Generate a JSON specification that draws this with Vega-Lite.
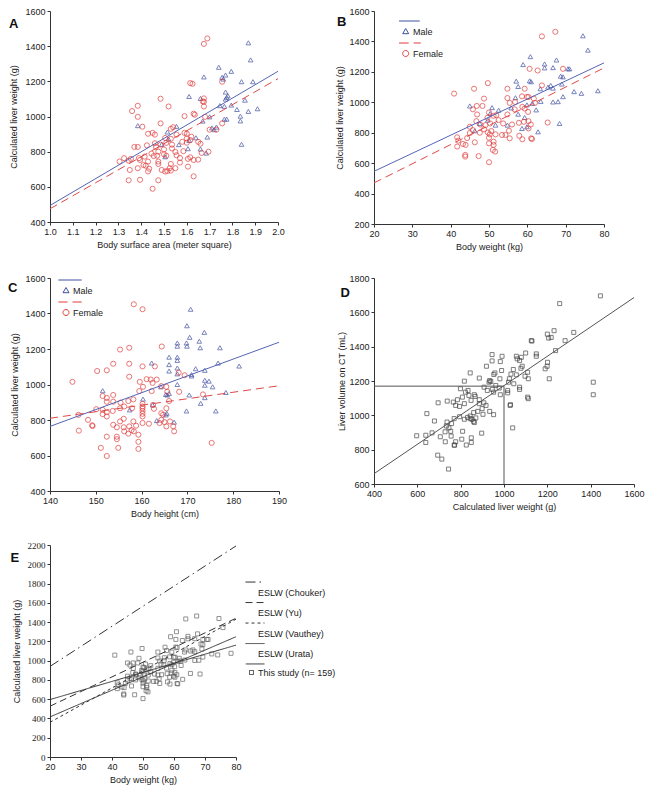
{
"$schema": "https://vega.github.io/schema/vega-lite/v6.json",
"padding": {"left": 8, "top": 7, "right": 4, "bottom": 4},
"columns": 2,
"bounds": "flush",
"align": "each",
"spacing": {"row": 54, "column": 95},
"resolve": {"scale": {"color": "independent", "shape": "independent", "strokeDash": "independent"}, "legend": {"color": "independent", "shape": "independent", "strokeDash": "independent"}},
"datasets": {
"A": [
{"sex":"Male","x":1.87,"y":1419},{"sex":"Male","x":1.88,"y":1322},{"sex":"Male","x":1.74,"y":1280},{"sex":"Male","x":1.795,"y":1257},{"sex":"Male","x":1.77,"y":1236},{"sex":"Male","x":1.755,"y":1223},{"sex":"Male","x":1.76,"y":1213},{"sex":"Male","x":1.675,"y":1225},{"sex":"Male","x":1.84,"y":1198},{"sex":"Male","x":1.89,"y":1198},{"sex":"Male","x":1.61,"y":1114},{"sex":"Male","x":1.77,"y":1139},{"sex":"Male","x":1.78,"y":1118},{"sex":"Male","x":1.77,"y":1099},{"sex":"Male","x":1.775,"y":1109},{"sex":"Male","x":1.66,"y":1103},{"sex":"Male","x":1.855,"y":1093},{"sex":"Male","x":1.795,"y":1065},{"sex":"Male","x":1.745,"y":1062},{"sex":"Male","x":1.765,"y":1058},{"sex":"Male","x":1.82,"y":1040},{"sex":"Male","x":1.87,"y":1029},{"sex":"Male","x":1.91,"y":1044},{"sex":"Male","x":1.70,"y":998},{"sex":"Male","x":1.835,"y":1002},{"sex":"Male","x":1.765,"y":985},{"sex":"Male","x":1.775,"y":985},{"sex":"Male","x":1.835,"y":975},{"sex":"Male","x":1.67,"y":974},{"sex":"Male","x":1.385,"y":948},{"sex":"Male","x":1.555,"y":944},{"sex":"Male","x":1.71,"y":935},{"sex":"Male","x":1.72,"y":925},{"sex":"Male","x":1.73,"y":940},{"sex":"Male","x":1.515,"y":912},{"sex":"Male","x":1.69,"y":883},{"sex":"Male","x":1.84,"y":842},{"sex":"Male","x":1.52,"y":872},{"sex":"Male","x":1.61,"y":864},{"sex":"Male","x":1.64,"y":879},{"sex":"Male","x":1.565,"y":840},{"sex":"Male","x":1.605,"y":817},{"sex":"Male","x":1.66,"y":815},{"sex":"Male","x":1.685,"y":792},{"sex":"Male","x":1.49,"y":842},{"sex":"Male","x":1.505,"y":771},
{"sex":"Female","x":1.69,"y":1444},{"sex":"Female","x":1.675,"y":1413},{"sex":"Female","x":1.615,"y":1190},{"sex":"Female","x":1.625,"y":1186},{"sex":"Female","x":1.755,"y":1198},{"sex":"Female","x":1.675,"y":1103},{"sex":"Female","x":1.67,"y":1086},{"sex":"Female","x":1.675,"y":1084},{"sex":"Female","x":1.485,"y":1101},{"sex":"Female","x":1.52,"y":1057},{"sex":"Female","x":1.385,"y":1061},{"sex":"Female","x":1.36,"y":1031},{"sex":"Female","x":1.675,"y":1057},{"sex":"Female","x":1.63,"y":1016},{"sex":"Female","x":1.635,"y":1010},{"sex":"Female","x":1.59,"y":1002},{"sex":"Female","x":1.385,"y":998},{"sex":"Female","x":1.68,"y":998},{"sex":"Female","x":1.70,"y":925},{"sex":"Female","x":1.73,"y":925},{"sex":"Female","x":1.755,"y":961},{"sex":"Female","x":1.485,"y":961},{"sex":"Female","x":1.405,"y":942},{"sex":"Female","x":1.45,"y":907},{"sex":"Female","x":1.46,"y":897},{"sex":"Female","x":1.43,"y":902},{"sex":"Female","x":1.53,"y":930},{"sex":"Female","x":1.555,"y":897},{"sex":"Female","x":1.59,"y":907},{"sex":"Female","x":1.60,"y":902},{"sex":"Female","x":1.60,"y":875},{"sex":"Female","x":1.505,"y":878},{"sex":"Female","x":1.53,"y":873},{"sex":"Female","x":1.62,"y":885},{"sex":"Female","x":1.65,"y":856},{"sex":"Female","x":1.60,"y":851},{"sex":"Female","x":1.535,"y":840},{"sex":"Female","x":1.485,"y":840},{"sex":"Female","x":1.51,"y":850},{"sex":"Female","x":1.425,"y":836},{"sex":"Female","x":1.465,"y":827},{"sex":"Female","x":1.37,"y":827},{"sex":"Female","x":1.385,"y":827},{"sex":"Female","x":1.50,"y":813},{"sex":"Female","x":1.475,"y":800},{"sex":"Female","x":1.585,"y":803},{"sex":"Female","x":1.66,"y":845},{"sex":"Female","x":1.535,"y":818},{"sex":"Female","x":1.695,"y":800},{"sex":"Female","x":1.445,"y":789},{"sex":"Female","x":1.50,"y":785},{"sex":"Female","x":1.55,"y":798},{"sex":"Female","x":1.455,"y":775},{"sex":"Female","x":1.47,"y":777},{"sex":"Female","x":1.51,"y":777},{"sex":"Female","x":1.615,"y":768},{"sex":"Female","x":1.415,"y":772},{"sex":"Female","x":1.39,"y":763},{"sex":"Female","x":1.325,"y":763},{"sex":"Female","x":1.355,"y":759},{"sex":"Female","x":1.57,"y":764},{"sex":"Female","x":1.43,"y":744},{"sex":"Female","x":1.395,"y":753},{"sex":"Female","x":1.475,"y":730},{"sex":"Female","x":1.53,"y":730},{"sex":"Female","x":1.55,"y":706},{"sex":"Female","x":1.605,"y":759},{"sex":"Female","x":1.65,"y":755},{"sex":"Female","x":1.63,"y":753},{"sex":"Female","x":1.41,"y":724},{"sex":"Female","x":1.345,"y":749},{"sex":"Female","x":1.305,"y":744},{"sex":"Female","x":1.475,"y":744},{"sex":"Female","x":1.42,"y":720},{"sex":"Female","x":1.525,"y":706},{"sex":"Female","x":1.53,"y":692},{"sex":"Female","x":1.49,"y":696},{"sex":"Female","x":1.43,"y":688},{"sex":"Female","x":1.435,"y":703},{"sex":"Female","x":1.385,"y":706},{"sex":"Female","x":1.35,"y":696},{"sex":"Female","x":1.515,"y":690},{"sex":"Female","x":1.57,"y":738},{"sex":"Female","x":1.345,"y":637},{"sex":"Female","x":1.395,"y":640},{"sex":"Female","x":1.475,"y":637},{"sex":"Female","x":1.45,"y":589},{"sex":"Female","x":1.63,"y":660},{"sex":"Female","x":1.505,"y":687},{"sex":"Female","x":1.605,"y":715},{"sex":"Female","x":1.665,"y":793},{"sex":"Female","x":1.54,"y":939},{"sex":"Female","x":1.615,"y":866},{"sex":"Female","x":1.58,"y":856},{"sex":"Female","x":1.555,"y":780},{"sex":"Female","x":1.46,"y":848}
],
"Aln": [{"sex":"Male","x":1,"y":494},{"sex":"Male","x":2,"y":1257},{"sex":"Female","x":1,"y":475},{"sex":"Female","x":2,"y":1215}],
"B": [
{"sex":"Male","x":74.5,"y":1437},{"sex":"Male","x":75.8,"y":1343},{"sex":"Male","x":60.8,"y":1300},{"sex":"Male","x":58.9,"y":1248},{"sex":"Male","x":64.5,"y":1252},{"sex":"Male","x":64.5,"y":1226},{"sex":"Male","x":66.7,"y":1228},{"sex":"Male","x":67.6,"y":1278},{"sex":"Male","x":68.7,"y":1172},{"sex":"Male","x":69.3,"y":1167},{"sex":"Male","x":70.6,"y":1220},{"sex":"Male","x":71.0,"y":1220},{"sex":"Male","x":57.1,"y":1139},{"sex":"Male","x":60.6,"y":1141},{"sex":"Male","x":61,"y":1135},{"sex":"Male","x":57.6,"y":1104},{"sex":"Male","x":63.4,"y":1089},{"sex":"Male","x":65.4,"y":1100},{"sex":"Male","x":66.1,"y":1111},{"sex":"Male","x":66.7,"y":1093},{"sex":"Male","x":69,"y":1120},{"sex":"Male","x":72.2,"y":1070},{"sex":"Male","x":74.1,"y":1059},{"sex":"Male","x":78.4,"y":1076},{"sex":"Male","x":69.3,"y":1037},{"sex":"Male","x":68,"y":1004},{"sex":"Male","x":66.7,"y":1002},{"sex":"Male","x":63.5,"y":1006},{"sex":"Male","x":56.9,"y":1030},{"sex":"Male","x":61.3,"y":993},{"sex":"Male","x":59.9,"y":983},{"sex":"Male","x":45,"y":976},{"sex":"Male","x":50.8,"y":965},{"sex":"Male","x":55.8,"y":963},{"sex":"Male","x":52.5,"y":948},{"sex":"Male","x":50.3,"y":926},{"sex":"Male","x":62.3,"y":950},{"sex":"Male","x":57.6,"y":922},{"sex":"Male","x":59.3,"y":900},{"sex":"Male","x":49.7,"y":883},{"sex":"Male","x":47.6,"y":861},{"sex":"Male","x":54.8,"y":850},{"sex":"Male","x":59.9,"y":839},{"sex":"Male","x":68.4,"y":861},{"sex":"Male","x":62.8,"y":806},{"sex":"Male","x":51.7,"y":850},{"sex":"Male","x":58.6,"y":828},{"sex":"Male","x":46.3,"y":813},
{"sex":"Female","x":63.8,"y":1433},{"sex":"Female","x":67.3,"y":1463},{"sex":"Female","x":40.9,"y":1057},{"sex":"Female","x":46.1,"y":1089},{"sex":"Female","x":49.7,"y":1126},{"sex":"Female","x":60.6,"y":1220},{"sex":"Female","x":62.7,"y":1209},{"sex":"Female","x":69.3,"y":1220},{"sex":"Female","x":63.8,"y":1111},{"sex":"Female","x":59.3,"y":1089},{"sex":"Female","x":54.8,"y":1089},{"sex":"Female","x":48.7,"y":1024},{"sex":"Female","x":54.8,"y":1028},{"sex":"Female","x":58.6,"y":1039},{"sex":"Female","x":59.9,"y":1035},{"sex":"Female","x":60.3,"y":1035},{"sex":"Female","x":61.7,"y":1024},{"sex":"Female","x":55.4,"y":996},{"sex":"Female","x":62,"y":996},{"sex":"Female","x":45.8,"y":954},{"sex":"Female","x":48.3,"y":976},{"sex":"Female","x":46.8,"y":976},{"sex":"Female","x":50,"y":933},{"sex":"Female","x":58.7,"y":970},{"sex":"Female","x":59.3,"y":959},{"sex":"Female","x":60.2,"y":937},{"sex":"Female","x":56.7,"y":954},{"sex":"Female","x":54.8,"y":920},{"sex":"Female","x":51.9,"y":915},{"sex":"Female","x":46.9,"y":920},{"sex":"Female","x":49.6,"y":898},{"sex":"Female","x":51.2,"y":911},{"sex":"Female","x":46.7,"y":876},{"sex":"Female","x":50.3,"y":861},{"sex":"Female","x":47.7,"y":854},{"sex":"Female","x":49.1,"y":850},{"sex":"Female","x":52.5,"y":883},{"sex":"Female","x":53.7,"y":861},{"sex":"Female","x":56,"y":854},{"sex":"Female","x":57.8,"y":865},{"sex":"Female","x":59.1,"y":872},{"sex":"Female","x":60.3,"y":876},{"sex":"Female","x":60.9,"y":854},{"sex":"Female","x":65.3,"y":867},{"sex":"Female","x":60.3,"y":828},{"sex":"Female","x":45,"y":839},{"sex":"Female","x":45.8,"y":817},{"sex":"Female","x":48.7,"y":822},{"sex":"Female","x":50.6,"y":811},{"sex":"Female","x":49.7,"y":802},{"sex":"Female","x":50.2,"y":789},{"sex":"Female","x":53.4,"y":785},{"sex":"Female","x":54.3,"y":785},{"sex":"Female","x":51.7,"y":789},{"sex":"Female","x":47.6,"y":800},{"sex":"Female","x":45,"y":798},{"sex":"Female","x":50,"y":767},{"sex":"Female","x":44.3,"y":765},{"sex":"Female","x":41.7,"y":770},{"sex":"Female","x":42,"y":748},{"sex":"Female","x":43.2,"y":726},{"sex":"Female","x":46.3,"y":737},{"sex":"Female","x":51.2,"y":741},{"sex":"Female","x":55.4,"y":763},{"sex":"Female","x":57.9,"y":780},{"sex":"Female","x":61,"y":763},{"sex":"Female","x":61.2,"y":759},{"sex":"Female","x":51.2,"y":720},{"sex":"Female","x":50,"y":730},{"sex":"Female","x":41.7,"y":709},{"sex":"Female","x":43.9,"y":720},{"sex":"Female","x":51,"y":687},{"sex":"Female","x":51.6,"y":676},{"sex":"Female","x":43.8,"y":654},{"sex":"Female","x":43.8,"y":643},{"sex":"Female","x":47.3,"y":646},{"sex":"Female","x":50,"y":606},{"sex":"Female","x":55.2,"y":813},{"sex":"Female","x":58.7,"y":757},{"sex":"Female","x":56.8,"y":1002}
],
"Bln": [{"sex":"Male","x":20,"y":546},{"sex":"Male","x":80,"y":1259},{"sex":"Female","x":20,"y":470},{"sex":"Female","x":80,"y":1226}],
"C": [
{"sex":"Male","x":170.7,"y":1424},{"sex":"Male","x":169.9,"y":1331},{"sex":"Male","x":173.7,"y":1294},{"sex":"Male","x":170.5,"y":1266},{"sex":"Male","x":172.6,"y":1244},{"sex":"Male","x":172.8,"y":1207},{"sex":"Male","x":169.8,"y":1234},{"sex":"Male","x":169.9,"y":1216},{"sex":"Male","x":167.8,"y":1234},{"sex":"Male","x":167.8,"y":1216},{"sex":"Male","x":177.1,"y":1207},{"sex":"Male","x":166,"y":1154},{"sex":"Male","x":167.8,"y":1154},{"sex":"Male","x":167.8,"y":1136},{"sex":"Male","x":166,"y":1112},{"sex":"Male","x":162.2,"y":1121},{"sex":"Male","x":176.7,"y":1121},{"sex":"Male","x":181.3,"y":1104},{"sex":"Male","x":167.8,"y":1093},{"sex":"Male","x":171.8,"y":1089},{"sex":"Male","x":166,"y":1076},{"sex":"Male","x":173.8,"y":1080},{"sex":"Male","x":170.9,"y":1056},{"sex":"Male","x":170.9,"y":1048},{"sex":"Male","x":167.8,"y":1060},{"sex":"Male","x":173.8,"y":1024},{"sex":"Male","x":174.7,"y":1019},{"sex":"Male","x":173.8,"y":996},{"sex":"Male","x":175.5,"y":987},{"sex":"Male","x":167.8,"y":1000},{"sex":"Male","x":164.2,"y":987},{"sex":"Male","x":151.5,"y":965},{"sex":"Male","x":170.4,"y":941},{"sex":"Male","x":173.8,"y":926},{"sex":"Male","x":178.4,"y":955},{"sex":"Male","x":166,"y":950},{"sex":"Male","x":165.3,"y":944},{"sex":"Male","x":165.6,"y":941},{"sex":"Male","x":160.3,"y":918},{"sex":"Male","x":172.9,"y":894},{"sex":"Male","x":162.4,"y":885},{"sex":"Male","x":165.3,"y":829},{"sex":"Male","x":165.5,"y":838},{"sex":"Male","x":169.8,"y":851},{"sex":"Male","x":176.2,"y":851},{"sex":"Male","x":163.3,"y":797},{"sex":"Male","x":167.1,"y":788},{"sex":"Male","x":157.4,"y":857},
{"sex":"Female","x":158.3,"y":1452},{"sex":"Female","x":160.2,"y":1424},{"sex":"Female","x":157.3,"y":1207},{"sex":"Female","x":155.3,"y":1197},{"sex":"Female","x":153.8,"y":1117},{"sex":"Female","x":157.3,"y":1117},{"sex":"Female","x":160.2,"y":1102},{"sex":"Female","x":162.9,"y":1102},{"sex":"Female","x":164.4,"y":1214},{"sex":"Female","x":152.4,"y":1080},{"sex":"Female","x":150.3,"y":1076},{"sex":"Female","x":157.3,"y":1044},{"sex":"Female","x":159.6,"y":1015},{"sex":"Female","x":161.1,"y":1030},{"sex":"Female","x":162,"y":1028},{"sex":"Female","x":162.4,"y":1009},{"sex":"Female","x":163.3,"y":1028},{"sex":"Female","x":168.1,"y":1067},{"sex":"Female","x":169.4,"y":1052},{"sex":"Female","x":144.9,"y":1015},{"sex":"Female","x":160.3,"y":987},{"sex":"Female","x":164.3,"y":991},{"sex":"Female","x":165.4,"y":987},{"sex":"Female","x":165.6,"y":959},{"sex":"Female","x":168.2,"y":959},{"sex":"Female","x":162.2,"y":963},{"sex":"Female","x":159.5,"y":963},{"sex":"Female","x":158.2,"y":916},{"sex":"Female","x":173.4,"y":944},{"sex":"Female","x":151.5,"y":935},{"sex":"Female","x":152.4,"y":924},{"sex":"Female","x":153.8,"y":941},{"sex":"Female","x":152.4,"y":903},{"sex":"Female","x":155.4,"y":898},{"sex":"Female","x":155.3,"y":866},{"sex":"Female","x":150.1,"y":861},{"sex":"Female","x":151.5,"y":857},{"sex":"Female","x":152.4,"y":844},{"sex":"Female","x":153.7,"y":851},{"sex":"Female","x":156.2,"y":876},{"sex":"Female","x":157.9,"y":866},{"sex":"Female","x":160.2,"y":891},{"sex":"Female","x":160.2,"y":876},{"sex":"Female","x":160.2,"y":866},{"sex":"Female","x":160.2,"y":851},{"sex":"Female","x":160.2,"y":835},{"sex":"Female","x":160.2,"y":820},{"sex":"Female","x":162.5,"y":885},{"sex":"Female","x":162.7,"y":863},{"sex":"Female","x":165.4,"y":866},{"sex":"Female","x":166,"y":907},{"sex":"Female","x":146.2,"y":829},{"sex":"Female","x":148.3,"y":801},{"sex":"Female","x":146.3,"y":740},{"sex":"Female","x":149.2,"y":770},{"sex":"Female","x":149.3,"y":766},{"sex":"Female","x":151.5,"y":833},{"sex":"Female","x":152.4,"y":820},{"sex":"Female","x":153.8,"y":773},{"sex":"Female","x":155.3,"y":792},{"sex":"Female","x":156.1,"y":807},{"sex":"Female","x":156.1,"y":759},{"sex":"Female","x":154.6,"y":759},{"sex":"Female","x":157.3,"y":764},{"sex":"Female","x":157.8,"y":743},{"sex":"Female","x":158.3,"y":736},{"sex":"Female","x":158.8,"y":768},{"sex":"Female","x":158.2,"y":792},{"sex":"Female","x":160.2,"y":783},{"sex":"Female","x":161.6,"y":779},{"sex":"Female","x":164.3,"y":838},{"sex":"Female","x":164.7,"y":829},{"sex":"Female","x":164.3,"y":801},{"sex":"Female","x":165,"y":788},{"sex":"Female","x":166.2,"y":792},{"sex":"Female","x":163.9,"y":783},{"sex":"Female","x":165.4,"y":764},{"sex":"Female","x":166.9,"y":764},{"sex":"Female","x":167.1,"y":736},{"sex":"Female","x":157.1,"y":723},{"sex":"Female","x":159.3,"y":717},{"sex":"Female","x":154.6,"y":706},{"sex":"Female","x":154.6,"y":692},{"sex":"Female","x":152.4,"y":706},{"sex":"Female","x":159.3,"y":677},{"sex":"Female","x":151.1,"y":643},{"sex":"Female","x":154.9,"y":643},{"sex":"Female","x":159.3,"y":637},{"sex":"Female","x":152.4,"y":597},{"sex":"Female","x":175.3,"y":671},{"sex":"Female","x":156.2,"y":736},{"sex":"Female","x":157.1,"y":907},{"sex":"Female","x":153.8,"y":903}
],
"Cln": [{"sex":"Male","x":140,"y":764},{"sex":"Male","x":190,"y":1238},{"sex":"Female","x":140,"y":810},{"sex":"Female","x":190,"y":993}],
"D": [
{"x":1445,"y":1696},{"x":1257,"y":1651},{"x":1322,"y":1483},{"x":1231,"y":1493},{"x":1200,"y":1473},{"x":1206,"y":1450},{"x":1218,"y":1454},{"x":1282,"y":1435},{"x":1126,"y":1435},{"x":1129,"y":1433},{"x":1238,"y":1377},{"x":1100,"y":1363},{"x":1149,"y":1358},{"x":1149,"y":1344},{"x":1080,"y":1338},{"x":1057,"y":1344},{"x":1061,"y":1329},{"x":1072,"y":1319},{"x":945,"y":1354},{"x":991,"y":1344},{"x":945,"y":1317},{"x":983,"y":1313},{"x":919,"y":1286},{"x":958,"y":1247},{"x":953,"y":1238},{"x":989,"y":1261},{"x":1043,"y":1267},{"x":1057,"y":1236},{"x":1084,"y":1286},{"x":1078,"y":1274},{"x":1109,"y":1251},{"x":1112,"y":1213},{"x":1097,"y":1228},{"x":1201,"y":1309},{"x":1199,"y":1286},{"x":1190,"y":1271},{"x":1209,"y":1213},{"x":1025,"y":1213},{"x":1021,"y":1193},{"x":981,"y":1213},{"x":1032,"y":1240},{"x":886,"y":1217},{"x":934,"y":1203},{"x":817,"y":1199},{"x":844,"y":1247},{"x":931,"y":1193},{"x":939,"y":1197},{"x":799,"y":1155},{"x":908,"y":1164},{"x":923,"y":1145},{"x":946,"y":1151},{"x":962,"y":1174},{"x":978,"y":1159},{"x":1017,"y":1145},{"x":1017,"y":1131},{"x":1072,"y":1164},{"x":1072,"y":1151},{"x":1045,"y":1184},{"x":1109,"y":1106},{"x":1112,"y":1097},{"x":983,"y":1120},{"x":952,"y":1135},{"x":834,"y":1145},{"x":838,"y":1116},{"x":863,"y":1120},{"x":867,"y":1110},{"x":822,"y":1135},{"x":808,"y":1106},{"x":785,"y":1091},{"x":766,"y":1077},{"x":738,"y":1083},{"x":696,"y":1073},{"x":777,"y":1058},{"x":795,"y":1052},{"x":817,"y":1068},{"x":848,"y":1087},{"x":886,"y":1091},{"x":907,"y":1073},{"x":917,"y":1058},{"x":886,"y":1068},{"x":899,"y":1039},{"x":879,"y":1023},{"x":860,"y":1016},{"x":844,"y":996},{"x":844,"y":981},{"x":852,"y":977},{"x":860,"y":965},{"x":832,"y":988},{"x":870,"y":985},{"x":863,"y":958},{"x":903,"y":1006},{"x":934,"y":1023},{"x":952,"y":1004},{"x":1028,"y":1058},{"x":1030,"y":1062},{"x":817,"y":977},{"x":770,"y":981},{"x":795,"y":992},{"x":758,"y":952},{"x":737,"y":961},{"x":734,"y":938},{"x":746,"y":927},{"x":754,"y":907},{"x":728,"y":904},{"x":679,"y":967},{"x":644,"y":1010},{"x":597,"y":881},{"x":639,"y":884},{"x":639,"y":842},{"x":668,"y":898},{"x":706,"y":875},{"x":729,"y":846},{"x":756,"y":879},{"x":777,"y":846},{"x":809,"y":907},{"x":805,"y":861},{"x":826,"y":827},{"x":849,"y":842},{"x":849,"y":869},{"x":897,"y":896},{"x":772,"y":826},{"x":694,"y":768},{"x":713,"y":745},{"x":744,"y":687},{"x":1040,"y":927},{"x":1412,"y":1193},{"x":1412,"y":1120},{"x":770,"y":827}
],
"Dln": [{"seg":"fit","x":400,"y":660},{"seg":"fit","x":1600,"y":1686},{"seg":"h","x":400,"y":1170},{"seg":"h","x":1000,"y":1170},{"seg":"v","x":1000,"y":600},{"seg":"v","x":1000,"y":1170}],
"Eln": [
{"series":"ESLW (Chouker)","x":20,"y":940},{"series":"ESLW (Chouker)","x":80,"y":2190},
{"series":"ESLW (Yu)","x":20,"y":527},{"series":"ESLW (Yu)","x":80,"y":1440},
{"series":"ESLW (Vauthey)","x":20,"y":360},{"series":"ESLW (Vauthey)","x":80,"y":1430},
{"series":"ESLW (Urata)","x":20,"y":596},{"series":"ESLW (Urata)","x":80,"y":1161},
{"series":"This study (n= 159)","x":20,"y":416},{"series":"This study (n= 159)","x":80,"y":1248}
]
},
"concat": [
{
"width": 228, "height": 211,
"title": {"text": "A", "dx": -41, "dy": 28},
"encoding": {
"x": {"field": "x", "type": "quantitative", "scale": {"domain": [1, 2], "nice": false, "zero": false}, "axis": {"values": [1, 1.1, 1.2, 1.3, 1.4, 1.5, 1.6, 1.7, 1.8, 1.9, 2.0], "format": ".1f", "title": "Body surface area (meter square)"}},
"y": {"field": "y", "type": "quantitative", "scale": {"domain": [400, 1600], "nice": false, "zero": false}, "axis": {"values": [400, 600, 800, 1000, 1200, 1400, 1600], "format": "d", "title": "Calculated liver weight (g)", "titlePadding": 6.5}}
},
"layer": [
{"data": {"name": "A"}, "transform": [{"filter": "datum.sex == 'Male'"}], "mark": {"type": "point", "shape": "triangle-up", "filled": false, "color": "#3f50a2", "size": 22, "strokeWidth": 1}, "encoding": {}},
{"data": {"name": "A"}, "transform": [{"filter": "datum.sex == 'Female'"}], "mark": {"type": "point", "shape": "circle", "filled": false, "color": "#e23b3b", "size": 26, "strokeWidth": 1}, "encoding": {}},
{"data": {"name": "Aln"}, "transform": [{"filter": "datum.sex == 'Male'"}], "mark": {"type": "line", "color": "#5565b5", "strokeWidth": 1}, "encoding": {}},
{"data": {"name": "Aln"}, "transform": [{"filter": "datum.sex == 'Female'"}], "mark": {"type": "line", "color": "#e04848", "strokeWidth": 1, "strokeDash": [8, 5]}, "encoding": {}}
]
},
{
"width": 230, "height": 213,
"title": {"text": "B", "dx": -37, "dy": 26},
"encoding": {
"x": {"field": "x", "type": "quantitative", "scale": {"domain": [20, 80], "nice": false, "zero": false}, "axis": {"values": [20, 30, 40, 50, 60, 70, 80], "title": "Body weight (kg)"}},
"y": {"field": "y", "type": "quantitative", "scale": {"domain": [200, 1600], "nice": false, "zero": false}, "axis": {"values": [200, 400, 600, 800, 1000, 1200, 1400, 1600], "format": "d", "title": "Calculated liver weight (g)", "titlePadding": 4.5}}
},
"layer": [
{"data": {"name": "B"}, "transform": [{"filter": "datum.sex == 'Male'"}], "mark": {"type": "point", "shape": "triangle-up", "filled": false, "color": "#3f50a2", "size": 22, "strokeWidth": 1}, "encoding": {}},
{"data": {"name": "B"}, "transform": [{"filter": "datum.sex == 'Female'"}], "mark": {"type": "point", "shape": "circle", "filled": false, "color": "#e23b3b", "size": 26, "strokeWidth": 1}, "encoding": {}},
{"data": {"name": "Bln"}, "transform": [{"filter": "datum.sex == 'Male'"}], "mark": {"type": "line", "color": "#5565b5", "strokeWidth": 1}, "encoding": {}},
{"data": {"name": "Bln"}, "transform": [{"filter": "datum.sex == 'Female'"}], "mark": {"type": "line", "color": "#e04848", "strokeWidth": 1, "strokeDash": [8, 5]}, "encoding": {}},
{"data": {"values": [{"sex": "Male"}, {"sex": "Female"}]}, "mark": {"type": "point", "filled": false, "opacity": 0},
"encoding": {
"x": {"value": 0}, "y": {"value": 0},
"color": {"field": "sex", "type": "nominal", "scale": {"domain": ["Male", "Female"], "range": ["#3f50a2", "#e23b3b"]}, "legend": {"orient": "top-left", "offset": 10, "title": null, "symbolSize": 400, "symbolStrokeWidth": 1, "symbolOpacity": 1, "labelOffset": 8, "rowPadding": 4, "padding": 0, "labelFontSize": 9}},
"shape": {"field": "sex", "type": "nominal", "scale": {"domain": ["Male", "Female"], "range": ["M0.45,-1.05L2.52,-1.05M1.12,-0.3L1.42,0.22L0.82,0.22Z", "M0.45,-1.05L1.42,-1.05M1.92,-1.05L2.62,-1.05M1.42,0A0.3,0.3 0 1,1 0.82,0A0.3,0.3 0 1,1 1.42,0Z"]}, "legend": {"orient": "top-left", "offset": 10, "title": null, "symbolSize": 400, "symbolStrokeWidth": 1, "symbolOpacity": 1, "labelOffset": 8, "rowPadding": 4, "padding": 0, "labelFontSize": 9}}
}}
]
},
{
"width": 229, "height": 213,
"title": {"text": "C", "dx": -42, "dy": 25},
"encoding": {
"x": {"field": "x", "type": "quantitative", "scale": {"domain": [140, 190], "nice": false, "zero": false}, "axis": {"values": [140, 150, 160, 170, 180, 190], "title": "Body height (cm)"}},
"y": {"field": "y", "type": "quantitative", "scale": {"domain": [400, 1600], "nice": false, "zero": false}, "axis": {"values": [400, 600, 800, 1000, 1200, 1400, 1600], "format": "d", "title": "Calculated liver weight (g)", "titlePadding": 5.5}}
},
"layer": [
{"data": {"name": "C"}, "transform": [{"filter": "datum.sex == 'Male'"}], "mark": {"type": "point", "shape": "triangle-up", "filled": false, "color": "#3f50a2", "size": 22, "strokeWidth": 1}, "encoding": {}},
{"data": {"name": "C"}, "transform": [{"filter": "datum.sex == 'Female'"}], "mark": {"type": "point", "shape": "circle", "filled": false, "color": "#e23b3b", "size": 26, "strokeWidth": 1}, "encoding": {}},
{"data": {"name": "Cln"}, "transform": [{"filter": "datum.sex == 'Male'"}], "mark": {"type": "line", "color": "#5565b5", "strokeWidth": 1}, "encoding": {}},
{"data": {"name": "Cln"}, "transform": [{"filter": "datum.sex == 'Female'"}], "mark": {"type": "line", "color": "#e04848", "strokeWidth": 1, "strokeDash": [8, 5]}, "encoding": {}},
{"data": {"values": [{"sex": "Male"}, {"sex": "Female"}]}, "mark": {"type": "point", "filled": false, "opacity": 0},
"encoding": {
"x": {"value": 0}, "y": {"value": 0},
"color": {"field": "sex", "type": "nominal", "scale": {"domain": ["Male", "Female"], "range": ["#3f50a2", "#e23b3b"]}, "legend": {"orient": "top-left", "offset": 2, "title": null, "symbolSize": 400, "symbolStrokeWidth": 1, "symbolOpacity": 1, "labelOffset": 0, "rowPadding": 4, "padding": 0, "labelFontSize": 9}},
"shape": {"field": "sex", "type": "nominal", "scale": {"domain": ["Male", "Female"], "range": ["M-0.41,-1.05L1.92,-1.05M0.35,-0.3L0.65,0.22L0.05,0.22Z", "M-0.41,-1.05L0.5,-1.05M1.0,-1.05L1.92,-1.05M0.65,0A0.3,0.3 0 1,1 0.05,0A0.3,0.3 0 1,1 0.65,0Z"]}, "legend": {"orient": "top-left", "offset": 2, "title": null, "symbolSize": 400, "symbolStrokeWidth": 1, "symbolOpacity": 1, "labelOffset": 0, "rowPadding": 4, "padding": 0, "labelFontSize": 9}}
}}
]
},
{
"width": 260, "height": 206,
"title": {"text": "D", "dx": -33.5, "dy": 30},
"encoding": {
"x": {"field": "x", "type": "quantitative", "scale": {"domain": [400, 1600], "nice": false, "zero": false}, "axis": {"values": [400, 600, 800, 1000, 1200, 1400, 1600], "format": "d", "title": "Calculated liver weight (g)"}},
"y": {"field": "y", "type": "quantitative", "scale": {"domain": [600, 1800], "nice": false, "zero": false}, "axis": {"values": [600, 800, 1000, 1200, 1400, 1600, 1800], "format": "d", "title": "Liver volume on CT (mL)", "titlePadding": 2.5}}
},
"layer": [
{"data": {"name": "D"}, "mark": {"type": "point", "shape": "square", "filled": false, "color": "#333333", "size": 16, "strokeWidth": 0.9}, "encoding": {}},
{"data": {"name": "Dln"}, "mark": {"type": "line", "color": "#555555", "strokeWidth": 1}, "encoding": {"detail": {"field": "seg"}}}
]
},
{
"width": 186, "height": 212,
"title": {"text": "E", "dx": -39.5, "dy": 28},
"encoding": {
"x": {"field": "x", "type": "quantitative", "scale": {"domain": [20, 80], "nice": false, "zero": false}, "axis": {"values": [20, 30, 40, 50, 60, 70, 80], "title": "Body weight (kg)"}},
"y": {"field": "y", "type": "quantitative", "scale": {"domain": [0, 2200], "nice": false, "zero": false}, "axis": {"values": [0, 200, 400, 600, 800, 1000, 1200, 1400, 1600, 1800, 2000, 2200], "format": "d", "labelFont": "Liberation Serif", "title": "Calculated liver weight (g)", "titlePadding": 5.5}}
},
"layer": [
{"data": {"name": "B"}, "mark": {"type": "point", "shape": "square", "filled": false, "color": "#555555", "size": 16, "strokeWidth": 0.9}, "encoding": {}},
{"data": {"name": "Eln"}, "mark": {"type": "line", "strokeWidth": 1, "color": "#333333"},
"encoding": {
"strokeDash": {"field": "series", "type": "nominal", "scale": {"domain": ["ESLW (Chouker)", "ESLW (Yu)", "ESLW (Vauthey)", "ESLW (Urata)", "This study (n= 159)"], "range": [[10, 4, 1.5, 4], [7, 4], [3, 3], [1, 0], [1, 0]]}, "legend": {"orient": "right", "offset": 7, "title": " ", "titleFontSize": 9, "titlePadding": 28.5, "symbolSize": 361, "symbolStrokeWidth": 1, "symbolOpacity": 1, "labelOffset": -7, "rowPadding": 2.5, "padding": 0, "labelFontSize": 9}}
}},
{"data": {"values": [{"series": "ESLW (Chouker)"}, {"series": "ESLW (Yu)"}, {"series": "ESLW (Vauthey)"}, {"series": "ESLW (Urata)"}, {"series": "This study (n= 159)"}]}, "mark": {"type": "point", "filled": false, "opacity": 0, "color": "#333333"},
"encoding": {
"x": {"value": 0}, "y": {"value": 0},
"strokeDash": {"field": "series", "type": "nominal", "scale": {"domain": ["ESLW (Chouker)", "ESLW (Yu)", "ESLW (Vauthey)", "ESLW (Urata)", "This study (n= 159)"], "range": [[10, 4, 1.5, 4], [7, 4], [3, 3], [1, 0], [1, 0]]}, "legend": {"orient": "right", "offset": 7, "title": " ", "titleFontSize": 9, "titlePadding": 28.5, "symbolSize": 361, "symbolStrokeWidth": 1, "symbolOpacity": 1, "labelOffset": -7, "rowPadding": 2.5, "padding": 0, "labelFontSize": 9}},
"shape": {"field": "series", "type": "nominal", "scale": {"domain": ["ESLW (Chouker)", "ESLW (Yu)", "ESLW (Vauthey)", "ESLW (Urata)", "This study (n= 159)"], "range": ["M-1,-1.1L1,-1.1", "M-1,-1.1L1,-1.1", "M-1,-1.1L1,-1.1", "M-1,-1.1L1,-1.1", "M-0.97,-0.9L1,-0.9M-0.58,-0.21L-0.16,-0.21L-0.16,0.21L-0.58,0.21Z"]}, "legend": {"orient": "right", "offset": 7, "title": " ", "titleFontSize": 9, "titlePadding": 28.5, "symbolSize": 361, "symbolStrokeWidth": 1, "symbolOpacity": 1, "labelOffset": -7, "rowPadding": 2.5, "padding": 0, "labelFontSize": 9}}
}}
]
}
],
"config": {
"view": {"stroke": null},
"font": "Liberation Sans",
"axis": {"grid": false, "domainColor": "#333333", "tickColor": "#333333", "tickSize": 3, "labelFontSize": 9, "titleFontSize": 9, "titleFontWeight": "normal", "labelColor": "#222222", "titleColor": "#222222", "labelPadding": 2, "labelFlush": false, "labelOverlap": false, "labelFont": "Liberation Sans", "titleFont": "Liberation Sans"},
"axisX": {"titlePadding": 4},
"legend": {"labelFont": "Liberation Sans", "labelColor": "#222222", "titleFont": "Liberation Sans"},
"title": {"fontSize": 13, "fontWeight": "bold", "anchor": "start", "frame": "group", "offset": 0, "baseline": "alphabetic", "color": "#111111", "font": "Liberation Sans"}
}
}
